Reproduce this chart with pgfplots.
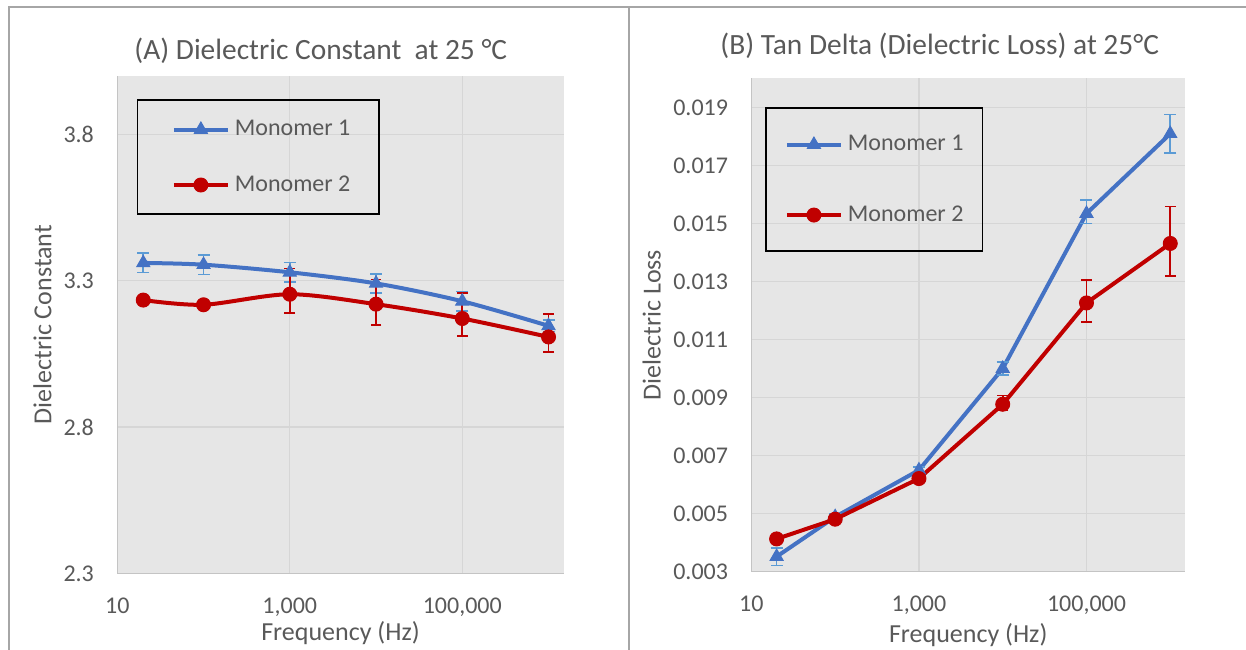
\documentclass[border=0pt]{standalone}
\usepackage{fontspec}
\setmainfont{Carlito}
\usepackage{pgfplots}
\pgfplotsset{compat=1.18}
\usepackage{pgfplotstable}

\definecolor{mblue}{HTML}{4472C4}
\definecolor{eblue}{HTML}{5B9BD5}
\definecolor{mred}{HTML}{C00000}
\definecolor{textc}{HTML}{595959}
\definecolor{plotbg}{HTML}{E6E6E6}
\definecolor{gridc}{HTML}{D6D6D6}
\definecolor{axisc}{HTML}{C4C4C4}
\definecolor{framec}{HTML}{A6A6A6}

\pgfplotstableread{
x y ep em
20 3.361 0.033 0.033
100 3.355 0.033 0.033
1000 3.329 0.033 0.033
10000 3.291 0.033 0.033
100000 3.230 0.033 0.033
1000000 3.146 0.020 0.020
}\leftA
\pgfplotstableread{
x y ep em
20 3.234 0.004 0.004
100 3.218 0.004 0.004
1000 3.254 0.088 0.064
10000 3.220 0.085 0.071
100000 3.171 0.087 0.060
1000000 3.108 0.078 0.052
}\leftB
\pgfplotstableread{
x y ep em
20 0.00352 0.0003 0.0003
100 0.00489 0.0001 0.0001
1000 0.00650 0.0001 0.0001
10000 0.01000 0.00023 0.00023
100000 0.01534 0.00046 0.00034
1000000 0.01809 0.00066 0.00066
}\rightA
\pgfplotstableread{
x y ep em
20 0.00413 0.0001 0.0001
100 0.00481 0.0001 0.0001
1000 0.00621 0.0001 0.0001
10000 0.00877 0.0003 0.0002
100000 0.01226 0.00079 0.00065
1000000 0.01431 0.00128 0.00112
}\rightB

\pgfplotsset{
    scale only axis,
    minor tick num=0,
    major tick length=0pt,
    axis lines*=left,
    axis line style={draw=axisc, line width=0.75pt, -},
    axis background/.style={fill=plotbg},
    grid=major,
    grid style={draw=gridc, line width=0.7pt},
    tick label style={font=\fontsize{12}{14}\selectfont, text=textc, inner sep=0pt},
    xticklabel style={anchor=north, yshift=-12pt},
    yticklabel style={anchor=east, xshift=-11.5pt},
    title style={font=\fontsize{14.7}{17}\selectfont, text=textc, anchor=base, inner sep=0pt, yshift=-6pt},
    label style={font=\fontsize{13}{15}\selectfont, text=textc, inner sep=0pt},
    legend cell align=left,
    legend image code/.code={\draw[mark repeat=2,mark phase=2,#1] plot coordinates {(0pt,0pt) (13.5pt,0pt) (27pt,0pt)};},
    legend style={anchor=north west, draw=black, line width=0.9pt, fill=none,
      font=\fontsize{12}{14}\selectfont, text=textc,
      column sep=2.5pt, nodes={inner sep=0pt}},
}

\begin{document}
\begin{tikzpicture}
\useasboundingbox (0,0) rectangle (623pt,-324.5pt);
\draw[framec, line width=0.75pt] (4.5pt,-330pt) -- (4.5pt,-3.5pt) -- (630pt,-3.5pt);
\draw[framec, line width=0.75pt] (314.5pt,-3.5pt) -- (314.5pt,-330pt);

\begin{axis}[
  anchor=north west,
  at={(58.65pt,-38pt)}, width=223.2pt, height=248.65pt,
  xmode=log, xmin=10, xmax=1.5e6,
  xtick={10,1000,100000},
  xticklabels={10,{1,000},{100,000}},
  scaled x ticks=false, scaled y ticks=false,
  ymin=2.3, ymax=4.0,
  ytick={2.3,2.8,3.3,3.8}, yticklabels={2.3,2.8,3.3,3.8},
  title={(A) Dielectric Constant\ \ at 25 °C},
  title style={at={(axis description cs:0.4559,1.0336)}},
  xlabel={Frequency (Hz)},
  ylabel={Dielectric Constant},
  ylabel style={at={(axis description cs:-0.1476,0.5)}, anchor=base},
  xlabel style={at={(axis description cs:0.5,-0.136)}, anchor=base},
  legend style={at={(axis description cs:0.0432,0.953)},
    inner xsep=17.2pt, inner ysep=10pt, row sep=18.5pt},
]
\addplot+[smooth, color=mblue, line width=2pt, mark=triangle*, mark size=3.75pt,
    mark options={solid, fill=mblue, line width=0.5pt},
    error bars/.cd, y dir=both, y explicit,
    error bar style={line width=0.8pt, color=eblue, solid},
    error mark options={rotate=90, mark size=3pt, line width=0.8pt, color=eblue}]
  table[x=x, y=y, y error plus=ep, y error minus=em] {\leftA};
\addlegendentry{Monomer 1\kern-3pt}
\addplot+[smooth, color=mred, line width=2pt, mark=*, mark size=3.5pt,
    mark options={solid, fill=mred, line width=0.5pt},
    error bars/.cd, y dir=both, y explicit,
    error bar style={line width=0.8pt, color=mred, solid},
    error mark options={rotate=90, mark size=2.7pt, line width=0.8pt, color=mred}]
  table[x=x, y=y, y error plus=ep, y error minus=em] {\leftB};
\addlegendentry{Monomer 2\kern-3pt}
\end{axis}

\begin{axis}[
  anchor=north west,
  at={(375.7pt,-39.15pt)}, width=216.8pt, height=246.7pt,
  xmode=log, xmin=10, xmax=1.5e6,
  xtick={10,1000,100000},
  xticklabels={10,{1,000},{100,000}},
  scaled x ticks=false, scaled y ticks=false,
  ymin=0.003, ymax=0.020,
  ytick={0.003,0.005,0.007,0.009,0.011,0.013,0.015,0.017,0.019},
  yticklabels={0.003,0.005,0.007,0.009,0.011,0.013,0.015,0.017,0.019},
  title={(B) Tan Delta (Dielectric Loss) at 25°C},
  title style={at={(axis description cs:0.4343,1.0486)}},
  xlabel={Frequency (Hz)},
  ylabel={Dielectric Loss},
  ylabel style={at={(axis description cs:-0.2092,0.5)}, anchor=base},
  xlabel style={at={(axis description cs:0.5,-0.143)}, anchor=base},
  legend style={at={(axis description cs:0.0314,0.941)},
    inner xsep=9.5pt, inner ysep=13.5pt, row sep=26pt},
]
\addplot+[color=mblue, line width=2pt, mark=triangle*, mark size=3.75pt,
    mark options={solid, fill=mblue, line width=0.5pt},
    error bars/.cd, y dir=both, y explicit,
    error bar style={line width=0.8pt, color=eblue, solid},
    error mark options={rotate=90, mark size=3pt, line width=0.8pt, color=eblue}]
  table[x=x, y=y, y error plus=ep, y error minus=em] {\rightA};
\addlegendentry{Monomer 1}
\addplot+[color=mred, line width=2pt, mark=*, mark size=3.5pt,
    mark options={solid, fill=mred, line width=0.5pt},
    error bars/.cd, y dir=both, y explicit,
    error bar style={line width=0.8pt, color=mred, solid},
    error mark options={rotate=90, mark size=2.7pt, line width=0.8pt, color=mred}]
  table[x=x, y=y, y error plus=ep, y error minus=em] {\rightB};
\addlegendentry{Monomer 2}
\end{axis}
\end{tikzpicture}
\end{document}
